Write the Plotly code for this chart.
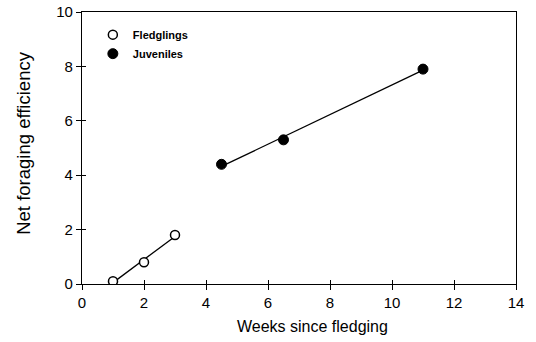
import numpy as np
import plotly.graph_objects as go

fled_x = [1, 2, 3]
fled_y = [0.1, 0.8, 1.8]
juv_x = [4.5, 6.5, 11]
juv_y = [4.4, 5.3, 7.9]
x_ticks = [0, 2, 4, 6, 8, 10, 12, 14]
y_ticks = [0, 2, 4, 6, 8, 10]
x_title = "Weeks since fledging"
y_title = "Net foraging efficiency"

def fit(xs, ys):
    m, b = np.polyfit(xs, ys, 1)
    xe = [min(xs), max(xs)]
    return xe, [m * v + b for v in xe]

fig = go.Figure()
fx, fy = fit(fled_x, fled_y)
jx, jy = fit(juv_x, juv_y)
fig.add_trace(go.Scatter(x=fx, y=fy, mode="lines", line=dict(color="black", width=1.3), showlegend=False, hoverinfo="skip"))
fig.add_trace(go.Scatter(x=jx, y=jy, mode="lines", line=dict(color="black", width=1.3), showlegend=False, hoverinfo="skip"))
fig.add_trace(go.Scatter(x=fled_x, y=fled_y, mode="markers", name="Fledglings",
                         marker=dict(symbol="circle", size=9, color="white", line=dict(color="black", width=1.5))))
fig.add_trace(go.Scatter(x=juv_x, y=juv_y, mode="markers", name="Juveniles",
                         marker=dict(symbol="circle", size=10, color="black", line=dict(color="black", width=1))))

axis_common = dict(showgrid=False, zeroline=False, linecolor="black", linewidth=1.3,
                   ticks="outside", ticklen=5, tickwidth=1.3, tickcolor="black",
                   tickfont=dict(size=15, color="black"), automargin=False)
fig.update_layout(
    width=536, height=342,
    margin=dict(l=82, r=20, t=12, b=58, autoexpand=False),
    paper_bgcolor="white", plot_bgcolor="white",
    font=dict(family="Liberation Sans, Arial, sans-serif", color="black"),
    xaxis=dict(range=[0, 14], tickvals=x_ticks, showline=True, mirror=True, **axis_common),
    yaxis=dict(range=[0, 10], tickvals=y_ticks, showline=True, mirror=True, **axis_common),
    xaxis2=dict(range=[0, 14], tickvals=x_ticks, overlaying="x", side="bottom", anchor="y",
                showticklabels=False, showgrid=False, zeroline=False, showline=False,
                ticks="inside", ticklen=4, tickwidth=1.3, tickcolor="black"),
    yaxis2=dict(range=[0, 10], tickvals=y_ticks, overlaying="y", side="left", anchor="x",
                showticklabels=False, showgrid=False, zeroline=False, showline=False,
                ticks="inside", ticklen=4, tickwidth=1.3, tickcolor="black"),
    legend=dict(x=0.025, y=0.97, xanchor="left", yanchor="top", bgcolor="rgba(0,0,0,0)",
                font=dict(size=11, family="Liberation Sans, Arial, sans-serif", weight="bold"),
                itemwidth=30, tracegroupgap=2),
    annotations=[
        dict(text=x_title, xref="paper", yref="paper", x=0.532, y=-0.157, xanchor="center", yanchor="middle",
             showarrow=False, font=dict(size=16)),
        dict(text=y_title, xref="paper", yref="paper", x=-0.135, y=0.517, xanchor="center", yanchor="middle",
             textangle=-90, showarrow=False, font=dict(size=18.5)),
    ],
)
fig.add_trace(go.Scatter(x=[None], y=[None], xaxis="x2", yaxis="y2", showlegend=False, hoverinfo="skip"))
fig.write_html("out.html", config={"displayModeBar": False},
               post_script="document.body.style.margin='0';document.body.style.overflow='hidden';")
